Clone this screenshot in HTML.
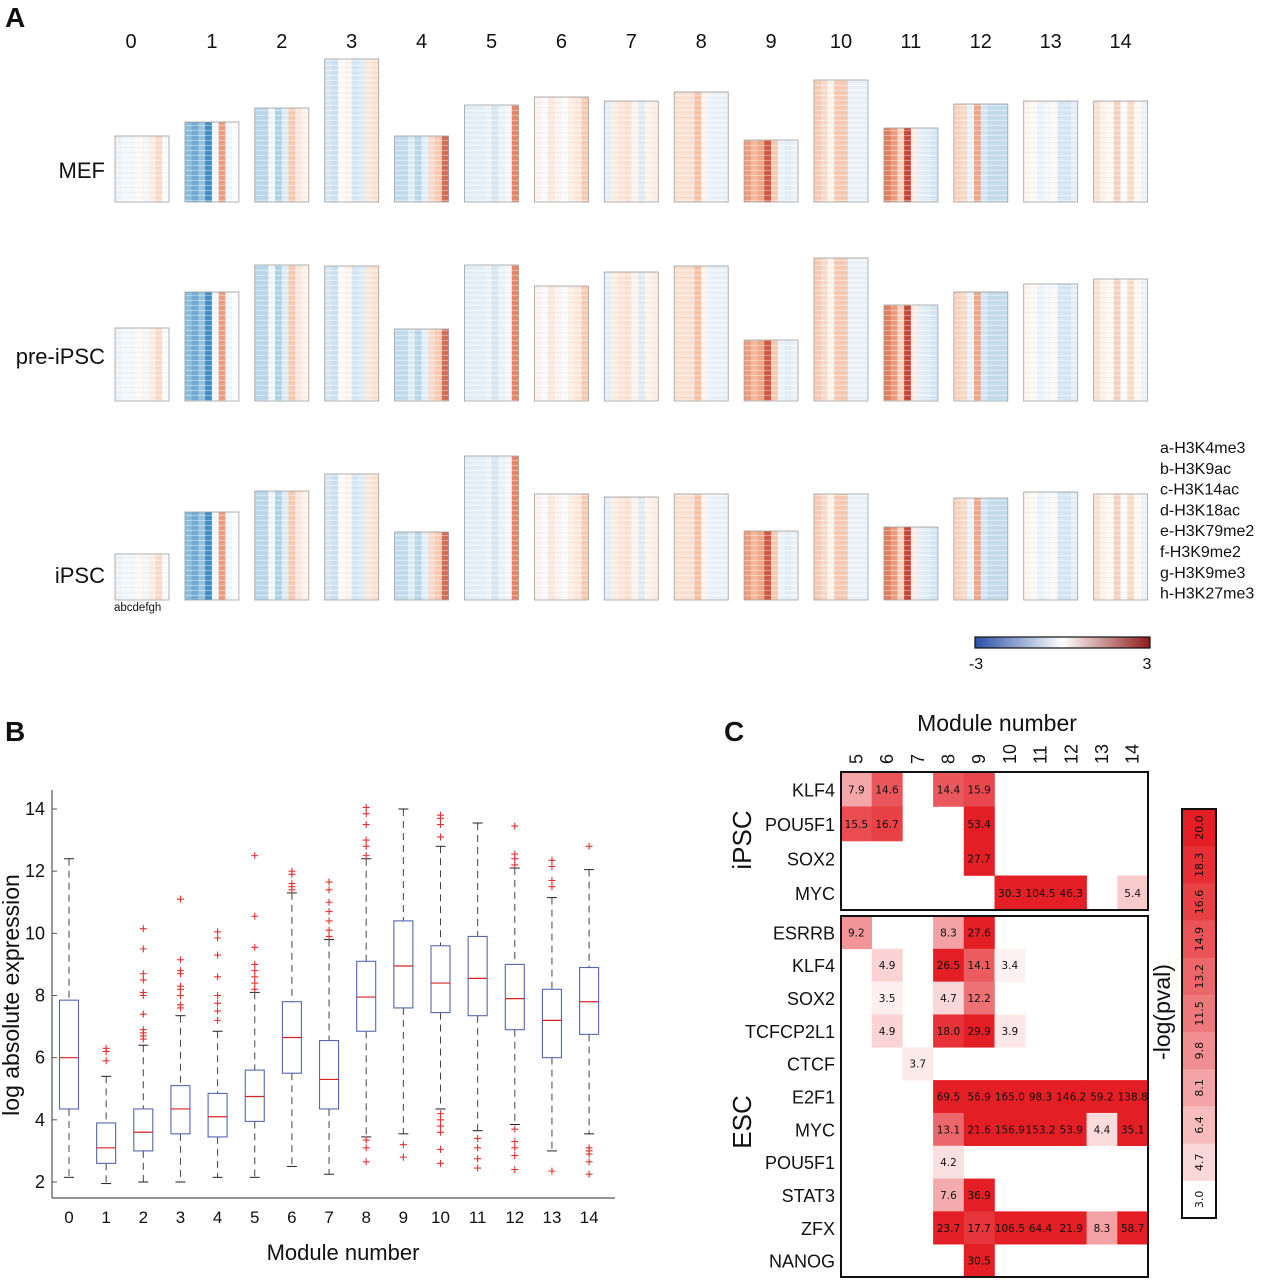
<!DOCTYPE html>
<html><head><meta charset="utf-8"><style>
body{margin:0;background:#fff}
svg text{font-family:"Liberation Sans","DejaVu Sans",sans-serif;fill:#111}
</style></head><body>
<svg id="fig" width="1264" height="1280" viewBox="0 0 1264 1280" xmlns="http://www.w3.org/2000/svg">
<defs>
<pattern id="tex" width="6" height="5" patternUnits="userSpaceOnUse">
<rect y="0" width="6" height="0.8" fill="#fff" opacity="0.45"/>
<rect y="2.5" width="6" height="0.6" fill="#000" opacity="0.05"/>
</pattern>
<linearGradient id="divgrad" x1="0" x2="1" y1="0" y2="0">
<stop offset="0" stop-color="#2a4fa8"/><stop offset="0.5" stop-color="#ffffff"/><stop offset="1" stop-color="#8e1b1b"/>
</linearGradient>
</defs>
<g id="panelA"></g>
<g id="panelB"></g>
<g id="panelC"></g>
</svg>
<script>
const NS="http://www.w3.org/2000/svg";
function mk(tag,attrs,parent,txt){const e=document.createElementNS(NS,tag);for(const k in attrs)e.setAttribute(k,attrs[k]);if(txt!==undefined)e.textContent=txt;parent.appendChild(e);return e;}

// ===== Panel A data =====
const modules=[0,1,2,3,4,5,6,7,8,9,10,11,12,13,14];
const conditions=["MEF","pre-iPSC","iPSC"];
const markLabels=["a-H3K4me3","b-H3K9ac","c-H3K14ac","d-H3K18ac","e-H3K79me2","f-H3K9me2","g-H3K9me3","h-H3K27me3"];
const sizeMEF=[66,80,94,143,66,97,105,101,110,62,122,74,98,101,101];
const sizePre=[73,109,136,135,72,136,115,129,135,61,143,96,109,117,122];
const sizeIPSC=[46,88,109,126,68,144,106,103,106,69,106,73,102,108,106];
const sizes=[sizeMEF,sizePre,sizeIPSC];
const colMeans=[
[-0.3,-0.2,-0.2,0.1,-0.2,0.3,0.6,-0.1],
[-1.3,-1.5,-1.2,-1.9,-0.2,1.3,-0.2,0.0],
[-0.9,-0.9,-0.2,-1.0,-0.5,0.8,0.4,0.2],
[-0.6,-0.7,-0.1,0.2,-0.6,-0.5,0.4,0.5],
[-0.8,-0.8,-0.5,-0.9,-0.4,0.6,0.8,1.8],
[-0.4,-0.4,-0.4,-0.3,-0.6,-0.3,-0.2,1.5],
[0.2,-0.1,0.4,0.2,-0.1,0.3,0.4,0.8],
[-0.4,0.3,0.4,0.5,0.2,-0.5,0.2,0.3],
[0.5,0.5,0.5,0.9,0.2,-0.3,-0.3,-0.3],
[1.3,1.0,1.2,2.0,0.8,-0.3,-0.4,-0.3],
[0.8,0.6,0.2,0.8,0.8,-0.3,-0.3,-0.3],
[1.6,1.3,0.7,2.2,0.3,-0.4,-0.5,-0.6],
[0.7,0.6,-0.3,1.2,-0.6,-0.8,-0.8,-0.8],
[0.2,0.1,-0.3,-0.2,0.1,-0.6,-0.6,-0.4],
[0.5,0.2,0.1,0.7,-0.1,0.6,0.1,-0.3]];

function hex(c){return [parseInt(c.slice(1,3),16),parseInt(c.slice(3,5),16),parseInt(c.slice(5,7),16)];}
function lerpStops(stops,t){t=Math.max(0,Math.min(1,t));const n=stops.length-1;const i=Math.min(n-1,Math.floor(t*n));const f=t*n-i;const a=hex(stops[i]),b=hex(stops[i+1]);return "rgb("+a.map((v,k)=>Math.round(v+(b[k]-v)*f)).join(",")+")";}
const posStops=["#ffffff","#fbe0d0","#f4b293","#e07a5c","#c8473a"];
const negStops=["#ffffff","#dcebf5","#a8cfe6","#5fa0cf","#2f78b8"];
function divColor(v){return v>=0?lerpStops(posStops,v/2.2):lerpStops(negStops,-v/2.2);}

const A=document.getElementById("panelA");
mk("text",{x:5,y:27,"font-size":28,"font-weight":"bold",},A,"A");
const hmX0=115,hmPitch=69.9,hmW=54,unitH=1.0;
const rowBottoms=[202,401,600];
const rowLabelY=[178,364,583];
modules.forEach((m,i)=>{
  const t=mk("text",{x:hmX0+hmW/2+i*hmPitch-(i===0?11:0),y:48,"font-size":20,"text-anchor":"middle"},A,String(m));
  
  
});
conditions.forEach((c,ci)=>{
  const t=mk("text",{x:105,y:rowLabelY[ci],"font-size":22,"text-anchor":"end"},A,c);
  
  
  modules.forEach((m,mi)=>{
    const h=sizes[ci][mi]*unitH, x=hmX0+mi*hmPitch, y=rowBottoms[ci]-h;
    const g=mk("g",{},A);
    
    
    const cw=hmW/8;
    colMeans[mi].forEach((v,k)=>{
      const r=mk("rect",{x:x+k*cw,y:y,width:cw+0.3,height:h,fill:divColor(v)},g);
      
      
    });
    mk("rect",{x:x,y:y,width:hmW,height:h,fill:"url(#tex)"},g);
    mk("rect",{x:x,y:y,width:hmW,height:h,fill:"none",stroke:"#a0a0a0","stroke-width":0.8},g);
  });
});
mk("text",{x:114,y:611,"font-size":11.5,},A,"abcdefgh");
markLabels.forEach((l,i)=>{
  const t=mk("text",{x:1160,y:453+i*20.8,"font-size":16},A,l);
  
  
});
mk("rect",{x:975,y:637,width:175,height:11,fill:"url(#divgrad)",stroke:"#111","stroke-width":1.2,},A);
mk("text",{x:976,y:669,"font-size":16,"text-anchor":"middle",},A,"-3");
mk("text",{x:1147,y:669,"font-size":16,"text-anchor":"middle",},A,"3");

// ===== Panel B data =====
const bxModules=[0,1,2,3,4,5,6,7,8,9,10,11,12,13,14];
const bxMedian=[6.0,3.1,3.6,4.35,4.1,4.75,6.65,5.3,7.95,8.95,8.4,8.55,7.9,7.2,7.8];
const bxQ1=[4.35,2.6,3.0,3.55,3.45,3.95,5.5,4.35,6.85,7.6,7.45,7.35,6.9,6.0,6.75];
const bxQ3=[7.85,3.9,4.35,5.1,4.85,5.6,7.8,6.55,9.1,10.4,9.6,9.9,9.0,8.2,8.9];
const bxLo=[2.15,1.95,2.0,2.0,2.15,2.15,2.5,2.25,3.45,3.55,4.35,3.65,3.85,3.0,3.55];
const bxHi=[12.4,5.4,6.4,7.35,6.85,8.1,11.3,9.8,12.4,14.0,12.8,13.55,12.1,11.15,12.05];
const bxOutliers=[
[],
[6.3,6.2,5.9],
[6.6,6.7,6.8,6.9,7.4,8.0,8.1,8.5,8.7,9.5,10.15],
[7.6,7.7,8.0,8.2,8.3,8.7,8.8,9.15,11.1],
[7.2,7.5,7.75,8.0,8.6,9.3,9.85,10.05],
[8.2,8.4,8.6,8.8,9.0,9.55,10.55,12.5],
[11.4,11.5,11.6,11.9,12.0],
[9.9,10.1,10.4,10.7,11.0,11.4,11.65],
[12.5,12.8,13.0,13.5,13.85,14.05,3.35,3.1,2.65],
[3.2,2.8],
[13.1,13.5,13.7,13.8,4.2,4.0,3.8,3.6,3.05,2.6],
[3.4,3.1,2.75,2.45],
[12.2,12.4,12.55,13.45,3.7,3.3,3.1,2.85,2.4],
[11.5,11.7,12.15,12.35,2.35],
[12.8,3.1,3.0,2.9,2.65,2.25]];
const bxYTicks=[2,4,6,8,10,12,14];

const B=document.getElementById("panelB");
mk("text",{x:5,y:741,"font-size":28,"font-weight":"bold",},B,"B");
const byScale=v=>1182-(v-2)*(1182-809)/12;
const bxScale=i=>69+i*37.15;
mk("line",{x1:52,y1:790,x2:52,y2:1198,stroke:"#555","stroke-width":1.2,},B);
mk("line",{x1:52,y1:1198,x2:615,y2:1198,stroke:"#555","stroke-width":1.2,},B);
bxYTicks.forEach(v=>{
  const y=byScale(v);
  mk("line",{x1:52,y1:y,x2:57,y2:y,stroke:"#555"},B);
  const t=mk("text",{x:45,y:y+6,"font-size":18,"text-anchor":"end"},B,String(v));
  
  
});
mk("text",{x:0,y:0,"font-size":23,"text-anchor":"middle",transform:"translate(19,995) rotate(-90)",},B,"log absolute expression");
mk("text",{x:343,y:1260,"font-size":22,"text-anchor":"middle",},B,"Module number");
bxModules.forEach((m,i)=>{
  const cx=bxScale(i),w=19;
  const g=mk("g",{},B);
  
  
  mk("line",{x1:cx,y1:byScale(bxHi[i]),x2:cx,y2:byScale(bxQ3[i]),stroke:"#444","stroke-dasharray":"7,5","stroke-width":1},g);
  mk("line",{x1:cx,y1:byScale(bxQ1[i]),x2:cx,y2:byScale(bxLo[i]),stroke:"#444","stroke-dasharray":"7,5","stroke-width":1},g);
  mk("line",{x1:cx-5,y1:byScale(bxHi[i]),x2:cx+5,y2:byScale(bxHi[i]),stroke:"#222"},g);
  mk("line",{x1:cx-5,y1:byScale(bxLo[i]),x2:cx+5,y2:byScale(bxLo[i]),stroke:"#222"},g);
  mk("rect",{x:cx-w/2,y:byScale(bxQ3[i]),width:w,height:byScale(bxQ1[i])-byScale(bxQ3[i]),fill:"none",stroke:"#5566b0","stroke-width":1.1},g);
  mk("line",{x1:cx-w/2,y1:byScale(bxMedian[i]),x2:cx+w/2,y2:byScale(bxMedian[i]),stroke:"#e02020","stroke-width":1.2},g);
  bxOutliers[i].forEach(v=>{
    const y=byScale(v);
    mk("path",{d:`M${cx-3.5},${y}h7M${cx},${y-3.5}v7`,stroke:"#e83030","stroke-width":1.1},g);
  });
  const t=mk("text",{x:cx,y:1223,"font-size":17,"text-anchor":"middle"},B,String(m));
  
  
});

// ===== Panel C data =====
const cModules=[5,6,7,8,9,10,11,12,13,14];
const ipscTFs=["KLF4","POU5F1","SOX2","MYC"];
const ipscVals=[
[7.9,14.6,null,14.4,15.9,null,null,null,null,null],
[15.5,16.7,null,null,53.4,null,null,null,null,null],
[null,null,null,null,27.7,null,null,null,null,null],
[null,null,null,null,null,30.3,104.5,46.3,null,5.4]];
const escTFs=["ESRRB","KLF4","SOX2","TCFCP2L1","CTCF","E2F1","MYC","POU5F1","STAT3","ZFX","NANOG"];
const escVals=[
[9.2,null,null,8.3,27.6,null,null,null,null,null],
[null,4.9,null,26.5,14.1,3.4,null,null,null,null],
[null,3.5,null,4.7,12.2,null,null,null,null,null],
[null,4.9,null,18.0,29.9,3.9,null,null,null,null],
[null,null,3.7,null,null,null,null,null,null,null],
[null,null,null,69.5,56.9,165.0,98.3,146.2,59.2,138.8],
[null,null,null,13.1,21.6,156.9,153.2,53.9,4.4,35.1],
[null,null,null,4.2,null,null,null,null,null,null],
[null,null,null,7.6,36.9,null,null,null,null,null],
[null,null,null,23.7,17.7,106.5,64.4,21.9,8.3,58.7],
[null,null,null,null,30.5,null,null,null,null,null]];
const cbarTicks=[20.0,18.3,16.6,14.9,13.2,11.5,9.8,8.1,6.4,4.7,3.0];

function redColor(v){const t=Math.pow(Math.max(0,Math.min(1,(v-3)/17)),0.75);const a=[255,255,255],b=[227,30,36];return "rgb("+a.map((x,k)=>Math.round(x+(b[k]-x)*t)).join(",")+")";}
const C=document.getElementById("panelC");
mk("text",{x:724,y:741,"font-size":28,"font-weight":"bold",},C,"C");
mk("text",{x:997,y:731,"font-size":23,"text-anchor":"middle",},C,"Module number");
const cx0=841,cw=30.7;
cModules.forEach((m,i)=>{
  const x=cx0+cw*(i+0.5);
  const t=mk("text",{x:0,y:0,"font-size":18,"text-anchor":"start",transform:`translate(${x+6},764) rotate(-90)`},C,String(m));
  
  
});
function drawBlock(tfs,vals,top,bottom,name){
  const rh=(bottom-top)/tfs.length;
  const g=mk("g",{},C);
  
  
  tfs.forEach((tf,r)=>{
    const t=mk("text",{x:835,y:top+rh*(r+0.5)+7,"font-size":18,"text-anchor":"end"},g,tf);
    
    
    vals[r].forEach((v,i)=>{
      if(v===null)return;
      const x=cx0+cw*i,y=top+rh*r;
      const c=mk("rect",{x:x,y:y,width:cw+0.3,height:rh+0.3,fill:redColor(v)},g);
      
      
      const tt=mk("text",{x:x+cw/2,y:y+rh/2+4,"font-size":10.5,"text-anchor":"middle",fill:v>=15?"#fff":"#222",style:"font-family:'DejaVu Sans',sans-serif"},g,v.toFixed(1));
      
      
    });
  });
  mk("rect",{x:cx0,y:top,width:cw*10,height:bottom-top,fill:"none",stroke:"#111","stroke-width":2},g);
}
drawBlock(ipscTFs,ipscVals,772,910,"ipsc-block");
drawBlock(escTFs,escVals,916,1277,"esc-block");
mk("text",{x:0,y:0,"font-size":26,"text-anchor":"middle",transform:"translate(751,840) rotate(-90)",},C,"iPSC");
mk("text",{x:0,y:0,"font-size":26,"text-anchor":"middle",transform:"translate(751,1122) rotate(-90)",},C,"ESC");
mk("text",{x:0,y:0,"font-size":23,"text-anchor":"middle",transform:"translate(1170,1012) rotate(-90)",},C,"-log(pval)");
const cbTop=809,cbBot=1218,cbX=1182,cbW=34;
const cbh=(cbBot-cbTop)/cbarTicks.length;
cbarTicks.forEach((v,i)=>{
  const y=cbTop+i*cbh;
  const r=mk("rect",{x:cbX,y:y,width:cbW,height:cbh+0.3,fill:redColor(v)},C);
  
  
  const t=mk("text",{x:0,y:0,"font-size":11,"text-anchor":"middle",fill:v>=14?"#fff":"#222",style:"font-family:'DejaVu Sans',sans-serif",transform:`translate(${cbX+cbW/2+4},${y+cbh/2}) rotate(-90)`},C,v.toFixed(1));
  
  
});
mk("rect",{x:cbX,y:cbTop,width:cbW,height:cbBot-cbTop,fill:"none",stroke:"#111","stroke-width":2,},C);
</script>
</body></html>
